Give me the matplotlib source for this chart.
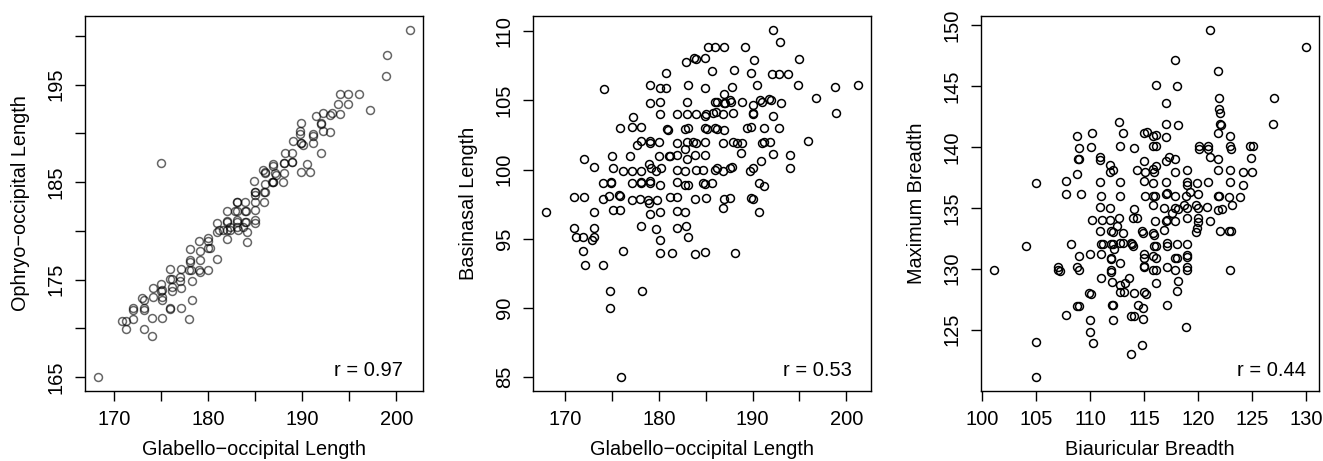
import matplotlib
matplotlib.use("Agg")
import matplotlib.pyplot as plt
import numpy as np

plt.rcParams['font.family'] = ['Liberation Sans', 'DejaVu Sans']

# ---------------- data ----------------
# Panel 1: Glabello-occipital Length vs Ophryo-occipital Length
p1 = [(175.0,187.0),(168.2,165.0),(170.85,170.8),(171.2,170.8),(171.2,169.9),(172.0,171.0),(172.0,171.9),
      (172.0,172.1),(173.1,169.9),(174.0,169.2),(174.0,171.1),(175.1,171.05),(172.9,173.1),(173.1,172.9),
      (173.1,172.1),(173.1,171.9),(174.1,173.2),(175.1,173.2),(175.1,172.9),(175.9,172.1),(175.9,172.0),
      (177.1,172.1),(177.9,171.0),(178.2,172.9),(174.1,174.1),(175.0,174.5),(175.0,173.8),(175.1,173.9),
      (176.1,174.2),(176.1,173.8),(177.1,174.1),(175.9,175.1),(176.1,175.1),(175.9,176.1),(177.0,174.9),
      (177.0,175.3),(177.1,176.1),(178.2,174.9),(177.9,176.0),(178.1,176.0),(178.0,177.0),(178.0,176.8),
      (178.0,178.1),(179.0,176.0),(179.1,175.8),(179.1,177.0),(179.1,177.9),(180.0,176.0),(179.0,179.0),
      (180.0,179.3),(180.0,178.2),(180.2,178.2),(180.9,177.1),(180.9,179.9),(181.1,180.1),(182.0,179.2),
      (182.0,180.1),(183.2,180.1),(184.1,179.9),(184.1,178.9),(185.0,180.8),
      (182.0,182.0),(180.9,180.8),(182.0,180.9),(183.0,180.9),(184.0,180.9),(181.6,180.1),(182.3,180.1),
      (201.5,200.6),(199.0,198.0),(198.9,195.9),(197.2,192.4),(194.0,194.0),(194.9,194.0),(196.0,194.0),
      (193.8,193.0),(194.9,193.0),(191.5,191.8),(192.2,192.1),(192.9,191.9),(193.2,192.1),(194.0,192.0),
      (192.0,190.9),(192.0,191.1),(192.9,190.1),(192.2,190.2),(189.9,191.1),(189.75,190.2),(189.75,189.9),
      (191.1,189.9),(191.1,189.7),(191.1,189.0),(189.9,189.0),(190.1,188.8),(189.0,189.2),(188.9,188.0),
      (188.2,188.0),(188.9,187.1),(188.9,187.1),(190.5,186.9),(189.9,186.0),(190.8,186.0),(192.0,188.0),
      (188.0,187.0),(188.0,185.9),(186.9,186.9),(186.9,186.6),(185.85,186.2),(186.0,185.9),(187.1,185.9),
      (187.2,185.7),(186.8,185.0),(186.9,185.0),(187.9,185.0),(186.0,184.8),(185.9,184.0),(186.0,184.0),
      (185.0,184.0),(185.0,183.7),(184.8,185.1),(183.0,183.0),(183.9,183.0),(185.0,183.0),(185.9,183.0),
      (182.8,182.0),(183.9,182.0),(185.0,182.1),(183.0,181.1),(183.9,180.9),(185.0,181.1),(182.3,180.4),
      (183.0,180.4),(183.7,180.4),
      (183.0,183.0),(183.0,182.0),(185.0,184.0),(186.9,185.0),(188.0,187.0),(184.0,182.0),(180.0,179.0),
      (186.0,186.0),(189.9,189.0),(182.0,181.0)]
glabello_1 = [p[0] for p in p1]
ophryo = [p[1] for p in p1]

# Panel 2: Glabello-occipital Length vs Basinasal Length
p2 = [(180.8,107.0),(174.1,105.8),(179.0,106.1),(180.1,105.9),(180.8,105.9),(179.1,104.8),(180.1,104.9),
      (180.1,104.0),(181.9,104.0),(177.2,103.8),(175.8,103.0),(177.1,103.1),(178.1,103.1),(180.9,102.9),
      (180.95,102.85),(177.7,101.8),(178.1,102.05),(179.0,102.1),(179.0,101.95),(180.0,102.0),(181.9,101.9),
      (172.0,100.8),(175.0,101.0),(176.9,101.0),(180.0,101.0),(181.1,101.0),(181.2,100.95),(181.9,101.05),
      (173.1,100.2),(175.1,100.1),(176.2,99.9),(177.1,99.9),(178.1,99.9),(178.9,100.4),(179.2,100.1),
      (179.7,99.9),(180.2,100.1),(181.9,99.96),(174.0,99.0),(174.9,99.1),(174.9,99.0),(177.1,99.0),
      (178.1,99.0),(178.1,99.1),(179.0,99.2),(179.0,99.0),(180.1,98.9),(181.9,99.1),(170.9,98.0),
      (172.0,98.0),(174.0,97.9),(174.7,98.1),(175.7,98.2),(175.9,98.1),(177.1,97.8),(178.0,97.9),
      (178.8,97.8),(178.9,97.6),(179.8,97.8),(181.2,98.0),(181.9,98.0),(173.1,96.96),(175.1,97.1),
      (175.9,97.1),(179.1,96.8),(180.1,96.9),(181.9,97.0),(167.9,96.9),(170.9,95.8),(173.1,95.8),
      (178.1,95.9),(179.7,95.7),(181.9,95.8),
      (171.1,95.1),(171.9,95.1),(173.1,95.1),(172.9,94.9),(171.9,94.1),(172.1,93.1),(174.0,93.1),
      (176.2,94.15),(174.8,91.2),(174.8,90.0),(178.2,91.2),(176.0,85.0),(180.1,94.9),(180.1,94.0),
      (181.4,94.0),
      (192.2,110.1),(192.9,109.2),(185.2,108.85),(186.0,108.85),(186.9,108.85),(189.2,108.85),
      (182.85,107.8),(183.7,108.1),(183.95,108.0),(184.9,108.1),(190.1,107.9),(194.9,108.0),(185.7,107.1),
      (188.0,107.2),(189.8,107.0),(192.05,106.9),(192.8,106.9),(193.8,106.9),(183.1,106.1),(184.9,105.9),
      (187.0,105.5),(187.8,106.0),(190.5,106.1),(194.8,106.1),(198.8,106.0),(201.3,106.1),(196.8,105.2),
      (198.9,104.1),(183.0,104.9),(186.0,104.9),(186.2,104.9),(186.9,104.8),(187.1,104.8),(187.6,105.0),
      (187.7,104.9),(188.9,104.9),(190.0,104.7),(190.8,105.0),(191.0,104.9),(191.8,105.1),(192.0,105.0),
      (193.05,104.8),(183.0,104.0),(184.0,104.0),(184.9,103.9),(185.0,104.0),(185.8,104.1),(186.1,104.2),
      (186.8,104.0),(187.9,104.1),(190.0,104.1),(190.0,104.05),(192.2,103.9),(183.1,103.0),(182.8,102.9),
      (184.9,103.0),(185.1,102.9),(186.0,103.0),(186.2,102.9),(186.9,102.85),(189.4,103.0),(189.8,103.1),
      (191.2,103.0),(192.8,103.0),(195.9,102.1),(183.0,102.0),(183.6,102.0),(183.95,101.95),(184.9,102.0),
      (186.8,101.95),(187.9,102.0),(188.3,101.95),(188.9,101.9),(191.0,101.95),(191.2,102.0),(191.9,102.0),
      (182.8,101.5),(183.0,100.75),(183.9,101.05),(184.9,101.05),(188.8,101.2),(192.2,101.1),(194.0,101.05),
      (194.0,100.1),(182.8,99.9),(184.0,100.0),(184.7,100.0),(186.0,100.0),(186.2,100.1),(186.8,99.9),
      (187.6,100.1),(187.8,100.2),(189.7,99.9),(190.0,100.1),(190.9,100.6),(182.8,98.86),(183.1,98.9),
      (184.7,99.0),(184.9,98.95),(185.7,99.0),(190.7,99.0),(191.2,98.8),(182.8,96.96),(183.8,97.9),
      (185.0,97.97),(186.9,97.9),(187.6,97.97),(189.8,97.97),(190.0,97.9),(186.85,97.2),(190.7,96.9),
      (182.9,95.9),(183.1,95.1),
      (183.9,93.9),(184.9,94.05),(188.1,94.0)]
glabello_2 = [p[0] for p in p2]
basinasal = [p[1] for p in p2]

# Panel 3: Biauricular Breadth vs Maximum Breadth
p3 = [(105.03,137.0),(107.8,137.2),(107.8,136.1),(108.8,140.9),(109.0,139.9),(108.9,139.0),(109.0,139.0),
      (108.8,137.8),(109.2,136.1),(110.2,141.1),(110.1,140.0),(110.95,139.15),(110.9,138.9),(111.8,138.5),
      (111.8,137.9),(112.1,138.1),(110.95,137.1),(111.0,136.0),(110.9,135.1),(111.8,135.0),(110.2,134.0),
      (111.1,134.0),(111.8,134.0),(110.9,133.1),(111.9,133.1),(112.1,133.0),(112.5,133.5),(112.7,142.0),
      (112.8,140.1),(112.8,137.1),(112.8,136.0),
      (101.07,129.86),(104.1,131.85),(105.0,124.0),(105.0,121.1),(107.0,130.1),(107.0,129.9),(107.2,129.8),
      (108.2,132.0),(109.0,131.0),(108.8,130.1),(109.0,129.9),(107.8,126.2),(108.8,126.9),(109.0,126.9),
      (110.0,131.2),(109.9,128.0),(110.1,127.9),(110.0,125.8),(110.0,124.8),(110.3,123.9),(111.0,129.2),
      (111.0,131.2),(111.0,131.99),(111.2,132.0),(111.9,132.0),(112.1,132.0),(111.9,130.9),(111.9,130.8),
      (111.9,129.9),(111.9,129.7),(112.0,128.9),(112.0,127.0),(112.1,127.0),(112.1,125.8),(112.2,131.6),
      (112.8,132.1),(112.8,130.5),(112.8,128.7),(112.8,128.1),
      (121.05,149.6),(130.0,148.2),(117.8,147.1),(121.85,146.2),(116.1,145.1),(118.05,145.0),(117.0,143.6),
      (121.9,144.0),(127.0,144.0),(121.9,143.1),(122.0,142.8),(122.0,141.9),(122.1,141.8),(126.9,141.9),
      (117.0,141.9),(118.1,141.8),(113.05,141.1),(114.96,141.1),(115.3,141.2),(115.8,140.9),(116.1,141.0),
      (117.0,140.8),(121.8,141.1),(122.9,140.9),(114.1,139.9),(115.8,140.05),(116.1,140.1),(120.05,140.05),
      (120.05,139.85),(120.9,140.05),(120.9,139.85),(122.9,140.1),(123.0,139.8),(124.8,140.05),
      (125.05,140.1),(115.0,138.8),(114.3,138.1),(115.1,137.9),(115.8,138.2),(115.9,137.9),(116.1,138.4),
      (117.0,138.8),(117.3,139.2),(117.8,139.0),(117.8,137.9),(119.0,138.1),(121.1,139.2),(121.8,139.0),
      (121.8,138.1),(122.9,138.1),(124.1,137.9),(125.0,137.9),(124.9,139.1),(115.0,137.2),(115.8,137.0),
      (117.0,137.1),(119.0,137.1),(119.0,136.9),(119.9,137.0),(120.9,137.1),(122.9,137.1),(124.1,136.9),
      (115.1,136.0),(115.8,136.0),(116.0,136.0),(117.0,136.1),(117.1,136.2),(117.8,136.0),(118.9,136.0),
      (119.2,136.3),(120.0,136.1),(121.8,136.0),(121.95,136.0),(122.8,135.9),(123.9,135.9),(114.1,134.9),
      (115.8,135.2),(116.8,135.0),(117.6,134.6),(117.8,135.0),(118.1,134.9),(118.7,135.2),(119.0,135.0),
      (119.8,135.2),(120.0,135.0),(120.8,135.1),(121.8,134.8),(122.2,134.9),(123.1,135.2),(112.7,134.2),
      (114.0,134.2),(114.3,134.2),(116.0,133.9),(117.0,133.9),(117.1,134.0),(117.8,133.9),(119.0,134.2),
      (120.0,134.2),(120.0,133.8),(121.1,133.9),(113.0,132.95),(114.8,133.1),(114.9,132.9),(115.8,132.95),
      (115.9,132.8),(116.8,133.2),(119.8,133.0),(119.9,133.3),(122.05,133.1),(122.8,133.1),(123.0,133.1),
      (113.0,132.1),(113.8,132.1),(113.9,132.0),(114.0,131.9),(114.96,131.2),(114.96,130.9),(115.8,131.0),
      (116.1,130.9),(115.9,131.9),(116.1,131.9),(117.1,132.1),(117.1,131.9),(118.05,132.0),(119.0,132.05),
      (117.8,130.9),(118.0,130.9),(119.0,131.1),(119.0,130.95),(119.0,130.1),(119.0,129.9),(118.1,129.0),
      (118.05,128.2),(117.1,130.1),(117.8,129.9),(116.1,128.85),(117.1,127.0),(118.9,125.2),(115.0,130.2),
      (115.0,130.1),(115.8,129.9),(116.1,129.9),(113.2,128.85),(113.6,129.2),(113.1,128.1),(114.1,128.0),
      (115.0,128.05),(115.2,127.9),(114.4,127.0),(114.9,126.8),(113.8,126.1),(114.1,126.1),(114.9,125.9),
      (114.8,123.7),(113.8,123.0),(122.9,129.9)]
biauricular = [p[0] for p in p3]
max_breadth = [p[1] for p in p3]

xlabels = ["Glabello\u2212occipital Length", "Glabello\u2212occipital Length", "Biauricular Breadth"]
ylabels = ["Ophryo\u2212occipital Length", "Basinasal Length", "Maximum Breadth"]
r_texts = ["r = 0.97", "r = 0.53", "r = 0.44"]

xticks = [[170,175,180,185,190,195,200], [170,175,180,185,190,195,200], [100,105,110,115,120,125,130]]
xticklabels = [["170","","180","","190","","200"], ["170","","180","","190","","200"],
               ["100","105","110","115","120","125","130"]]
yticks = [[165,170,175,180,185,190,195,200], [85,90,95,100,105,110], [125,130,135,140,145,150]]
yticklabels = [["165","","175","","185","","195",""], ["85","90","95","100","105","110"],
               ["125","130","135","140","145","150"]]

# ---------------- figure ----------------
W, H = 1323, 461
fig = plt.figure(figsize=(W/100, H/100), dpi=100)

lefts = [85, 533, 981]
axw, top, bot = 338, 16, 391
rtext_x = [0.94, 0.944, 0.962]

datasets = [(glabello_1, ophryo, 0.6), (glabello_2, basinasal, 1.0), (biauricular, max_breadth, 1.0)]

def rlim(v):
    lo, hi = min(v), max(v)
    d = (hi - lo) * 0.04
    return lo - d, hi + d

for i in range(3):
    ax = fig.add_axes([lefts[i]/W, (H-bot)/H, axw/W, (bot-top)/H])
    xs, ys, a = datasets[i]
    ax.plot(xs, ys, linestyle='none', marker='o', markersize=5.7, markerfacecolor='none',
            markeredgecolor='black', markeredgewidth=1.1, alpha=a)
    ax.set_xlim(rlim(xs))
    ax.set_ylim(rlim(ys))
    ax.set_xticks(xticks[i])
    ax.set_xticklabels(xticklabels[i])
    ax.set_yticks(yticks[i])
    ax.set_yticklabels(yticklabels[i], rotation=90, va='center')
    ax.tick_params(direction='out', length=7.2, width=1.0, labelsize=14.5, pad=6.5, color='black')
    for s in ax.spines.values():
        s.set_linewidth(1.0)
        s.set_color('black')
    ax.set_xlabel(xlabels[i], fontsize=14.3)
    ax.set_ylabel(ylabels[i], fontsize=14.3)
    ax.xaxis.set_label_coords(0.5, -(440-bot)/(bot-top))
    ax.yaxis.set_label_coords(-0.163, 0.5)
    ax.xaxis.label.set_va('top')
    ax.text(rtext_x[i], 0.04, r_texts[i], transform=ax.transAxes, ha='right', va='baseline', fontsize=14.5)

fig.savefig("out.png", dpi=100)
